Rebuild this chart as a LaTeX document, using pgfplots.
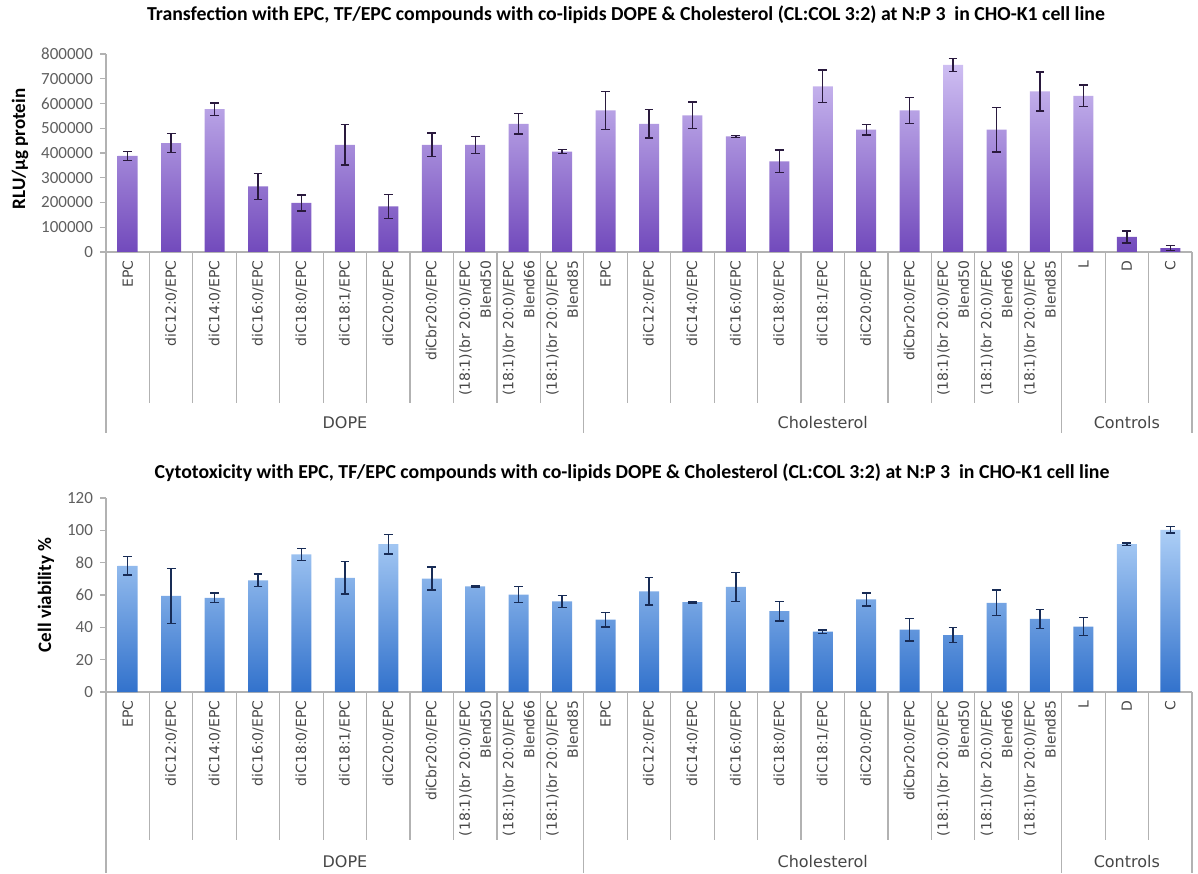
\documentclass[border=0pt]{standalone}
\usepackage{pgfplots}
\usepackage{pgfplotstable}
\pgfplotsset{compat=1.18}
\usepackage{fontspec}
\setmainfont{Carlito}
\newfontfamily\catfont{DejaVu Sans}

\definecolor{axisline}{RGB}{178,178,178}
\definecolor{ticktext}{RGB}{95,95,95}
\definecolor{cattext}{RGB}{70,70,70}
\definecolor{lavTop}{RGB}{206,190,242}
\definecolor{lavBot}{RGB}{114,74,188}
\definecolor{bluTop}{RGB}{172,206,246}
\definecolor{bluBot}{RGB}{50,114,204}
\definecolor{errDark}{RGB}{42,26,62}
\definecolor{errNavy}{RGB}{24,44,86}

% transfection: mean RLU per ug protein and half-width of the error bar
\pgfplotstableread{
x val err
0 388000 18000
1 440000 38000
2 577000 25000
3 265000 52000
4 198000 32000
5 433000 82000
6 184000 48000
7 433000 48000
8 433000 34000
9 518000 42000
10 406000 8000
11 572000 77000
12 518000 57000
13 552000 54000
14 467000 4000
15 366000 46000
16 669000 66000
17 494000 22000
18 572000 53000
19 756000 27000
20 494000 90000
21 649000 79000
22 631000 43000
23 61000 24000
24 16000 10000
}\transfection

% cytotoxicity: cell viability in percent
\pgfplotstableread{
x val err
0 78.0 5.7
1 59.4 17.0
2 58.3 3.0
3 69.1 4.0
4 85.1 3.6
5 70.6 10.0
6 91.4 6.0
7 70.2 7.0
8 65.4 0.5
9 60.2 5.0
10 56.0 3.7
11 44.8 4.5
12 62.3 8.5
13 55.6 0.5
14 65.0 9.0
15 50.0 6.0
16 37.3 1.0
17 57.3 4.0
18 38.6 7.0
19 35.2 4.7
20 55.2 8.0
21 45.2 6.0
22 40.4 5.5
23 91.4 0.8
24 100.3 2.0
}\viability

\pgfplotsset{
  excelbars/.style={
    scale only axis,
    width=543pt,
    xmin=-0.5, xmax=24.5,
    ymin=0,
    axis lines*=left,
    axis line style={axisline, line width=0.6pt},
    clip=false,
    xtick={0,...,24},
    xticklabels={EPC, diC12:0/EPC, diC14:0/EPC, diC16:0/EPC, diC18:0/EPC,
      diC18:1/EPC, diC20:0/EPC, diCbr20:0/EPC,
      {(18:1)(br 20:0)/EPC\\Blend50}, {(18:1)(br 20:0)/EPC\\Blend66},
      {(18:1)(br 20:0)/EPC\\Blend85},
      EPC, diC12:0/EPC, diC14:0/EPC, diC16:0/EPC, diC18:0/EPC,
      diC18:1/EPC, diC20:0/EPC, diCbr20:0/EPC,
      {(18:1)(br 20:0)/EPC\\Blend50}, {(18:1)(br 20:0)/EPC\\Blend66},
      {(18:1)(br 20:0)/EPC\\Blend85},
      L, D, C},
    x tick style={draw=none},
    y tick style={axisline, line width=0.6pt},
    tick align=outside,
    major tick length=3pt,
    /pgf/number format/assume math mode=true,
    yticklabel style={font=\fontsize{8.5}{10}\selectfont, text=ticktext,
      /pgf/number format/fixed, /pgf/number format/1000 sep={}},
    scaled y ticks=false,
    xticklabel style={rotate=90, anchor=east, align=right,
      font=\catfont\fontsize{7}{10.5}\selectfont, text=cattext, inner sep=1pt},
  },
  errbars/.style={draw=none, mark=none, forget plot,
    error bars/.cd, y dir=both, y explicit,
    error bar style={draw=#1, line width=0.7pt},
    error mark options={rotate=90, draw=#1, mark size=2.2pt, line width=0.7pt}},
}

\newcommand{\grouplabel}[3]{\node[font=\catfont\fontsize{8}{9}\selectfont, text=cattext,
  yshift=#3] at (axis cs:#1,0) {#2};}

\begin{document}
\begin{tikzpicture}
\useasboundingbox (0,0) rectangle (599pt,436.5pt);

% ---------- transfection ----------
\node[font=\bfseries\fontsize{9.9}{11}\selectfont] at (313pt,429pt)
  {Transfection with EPC, TF/EPC compounds with co-lipids DOPE \& Cholesterol (CL:COL 3:2) at N:P 3 \ in CHO-K1 cell line};
\node[rotate=90, font=\bfseries\fontsize{9.5}{11}\selectfont] at (10pt,362pt) {RLU/µg protein};

\begin{axis}[excelbars,
  at={(53pt,310.5pt)}, anchor=south west,
  height=99pt,
  ymax=800000, ytick={0,100000,...,800000}]
  \addplot[ybar, bar width=10pt, draw=none, top color=lavTop, bottom color=lavBot]
    table[x=x, y=val] {\transfection};
  \addplot[errbars=errDark] table[x=x, y=val, y error=err] {\transfection};
  % category separators
  \pgfplotsinvokeforeach{0.5,1.5,2.5,3.5,4.5,5.5,6.5,7.5,8.5,9.5,11.5,12.5,13.5,14.5,15.5,16.5,17.5,18.5,19.5,20.5,22.5,23.5}{
    \draw[axisline, line width=0.6pt] (axis cs:#1,0) -- ++(0pt,-75.5pt);}
  % group separators
  \pgfplotsinvokeforeach{-0.5,10.5,21.5,24.5}{
    \draw[axisline, line width=0.6pt] (axis cs:#1,0) -- ++(0pt,-90.5pt);}
  \grouplabel{5}{DOPE}{-85.5pt}
  \grouplabel{16}{Cholesterol}{-85.5pt}
  \grouplabel{23}{Controls}{-85.5pt}
\end{axis}

% ---------- cytotoxicity ----------
\node[font=\bfseries\fontsize{9.9}{11}\selectfont] at (316pt,200pt)
  {Cytotoxicity with EPC, TF/EPC compounds with co-lipids DOPE \& Cholesterol (CL:COL 3:2) at N:P 3 \ in CHO-K1 cell line};
\node[rotate=90, font=\bfseries\fontsize{9.5}{11}\selectfont] at (23pt,139pt) {Cell viability \%};

\begin{axis}[excelbars,
  at={(53pt,90.5pt)}, anchor=south west,
  height=97pt,
  ymax=120, ytick={0,20,...,120}]
  \addplot[ybar, bar width=10pt, draw=none, top color=bluTop, bottom color=bluBot]
    table[x=x, y=val] {\viability};
  \addplot[errbars=errNavy] table[x=x, y=val, y error=err] {\viability};
  \pgfplotsinvokeforeach{0.5,1.5,2.5,3.5,4.5,5.5,6.5,7.5,8.5,9.5,11.5,12.5,13.5,14.5,15.5,16.5,17.5,18.5,19.5,20.5,22.5,23.5}{
    \draw[axisline, line width=0.6pt] (axis cs:#1,0) -- ++(0pt,-74pt);}
  \pgfplotsinvokeforeach{-0.5,10.5,21.5,24.5}{
    \draw[axisline, line width=0.6pt] (axis cs:#1,0) -- ++(0pt,-90.5pt);}
  \grouplabel{5}{DOPE}{-85pt}
  \grouplabel{16}{Cholesterol}{-85pt}
  \grouplabel{23}{Controls}{-85pt}
\end{axis}
\end{tikzpicture}
\end{document}
